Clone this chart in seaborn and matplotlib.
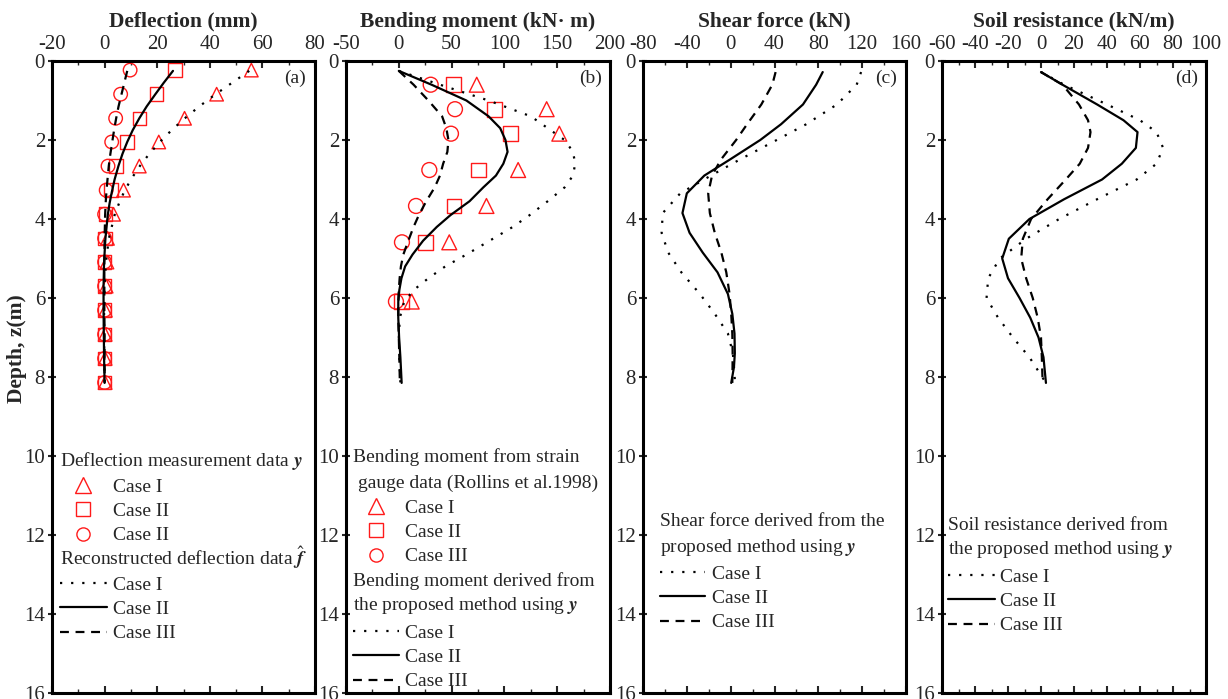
import matplotlib
matplotlib.use("Agg")
import matplotlib.pyplot as plt
import seaborn as sns
from matplotlib.lines import Line2D
from matplotlib.ticker import MultipleLocator

sns.set_style("ticks")
plt.rcParams["font.family"] = ["Liberation Serif", "DejaVu Serif"]
plt.rcParams["mathtext.fontset"] = "stix"
plt.rcParams["axes.unicode_minus"] = False

W, H = 1228, 699

# ---- panel (a): deflection (mm) ----
a_mark_z = [0.23, 0.84, 1.45, 2.05, 2.66, 3.27, 3.88, 4.49, 5.09, 5.70, 6.31, 6.92, 7.53, 8.14]
a_mark_c1 = [55.8, 42.6, 30.4, 20.6, 13.2, 7.2, 3.4, 1.1, 0.9, 0.6, 0.3, 0.2, 0.2, 0.2]
a_mark_c2 = [26.7, 19.7, 13.3, 8.5, 4.4, 2.5, 0.4, 0.2, 0.0, 0.0, 0.0, 0.0, 0.0, 0.0]
a_mark_c3 = [9.7, 6.1, 4.2, 2.7, 1.3, 0.6, 0.0, 0.0, 0.0, 0.0, 0.0, 0.0, 0.0, 0.0]
a_line_z = [0.25, 0.55, 0.85, 1.15, 1.45, 1.75, 2.05, 2.35, 2.65, 3.0, 3.3, 3.6, 3.9,
            4.5, 5.1, 5.7, 6.3, 6.9, 7.5, 8.15]
a_line_c1 = [55, 48.5, 42, 36, 30.5, 25.5, 21, 17, 13.5, 10, 7.5, 5.5, 3.8,
             1.6, 0.5, 0, -0.2, -0.2, -0.1, 0]
a_line_c2 = [26, 22.5, 19.2, 16, 13.2, 10.7, 8.6, 6.8, 5.3, 3.8, 2.8, 1.9, 1.2,
             0.3, -0.2, -0.4, -0.4, -0.3, -0.2, 0]
a_line_c3 = [8.6, 7.5, 6.4, 5.3, 4.4, 3.6, 2.9, 2.2, 1.6, 1.1, 0.7, 0.4, 0.2,
             0, -0.1, -0.1, -0.1, 0, 0, 0]

# ---- panel (b): bending moment (kN m) ----
b_mark_z = [0.6, 1.22, 1.84, 2.76, 3.67, 4.59, 6.09]
b_mark_c1 = [73.8, 140, 152, 113, 83, 47.8, 12.2]
b_mark_c2 = [51.6, 91, 106, 75.3, 52.3, 25.4, 2.7]
b_mark_c3 = [30.2, 53.2, 49.4, 28.9, 16.3, 3.0, -2.7]
b_line_z = [0.25, 0.6, 1.0, 1.4, 1.7, 2.0, 2.3, 2.6, 2.9, 3.2, 3.55, 3.9, 4.2,
            4.55, 4.9, 5.2, 5.5, 5.8, 6.1, 6.5, 7.0, 7.5, 8.15]
b_line_c1 = [0, 39, 85, 125, 141, 157, 165, 167, 165, 157, 141, 124, 108,
             86, 64, 44, 28, 14, 5, 1, 0, 0.5, 1.5]
b_line_c2 = [0, 31, 64, 85, 96, 101, 103, 99, 92, 80, 67, 49, 36,
             23, 13, 6, 2.5, 0.5, -0.5, -0.5, 0.3, 1.5, 2.7]
b_line_c3 = [0, 14, 28, 41, 45, 47, 46, 42, 39, 34, 26, 19, 14,
             9, 4.3, 2, 0.8, 0, -0.5, -0.5, 0, 0.5, 1]

# ---- panel (c): shear force (kN) ----
c_line_z = [0.28, 0.6, 1.1, 1.6, 2.0, 2.5, 2.9, 3.35, 3.85, 4.35, 4.85, 5.35,
            5.9, 6.4, 6.9, 7.4, 7.75, 8.15]
c_line_c1 = [119, 115, 97, 69, 42, 8, -18, -46, -62, -63, -57, -45,
             -28, -14.5, -2.5, 2, 3, 4]
c_line_c2 = [84, 78, 66, 46, 27, -1, -24, -40, -44, -37.5, -25.5, -12,
             -2.5, 1.5, 3.5, 3.8, 3, 0.5]
c_line_c3 = [41, 38, 28, 15, 5, -9, -17, -20.5, -19, -14.5, -8.5, -4,
             -1, 0.5, 1.5, 1.8, 1.7, 1.5]

# ---- panel (d): soil resistance (kN/m) ----
d_line_z = [0.28, 0.6, 1.1, 1.5, 1.8, 2.2, 2.6, 3.0, 3.5, 4.0, 4.5, 5.0, 5.5,
            6.0, 6.5, 7.0, 7.5, 8.15]
d_line_c1 = [0, 14, 40, 60, 70, 74, 70, 58, 34, 11, -9, -25, -32,
             -33, -26, -17, -7, 3]
d_line_c2 = [0, 13, 34, 50, 58.5, 57.5, 49, 37, 14, -7, -19.5, -23.5, -20,
             -13, -6.5, -1.5, 1.5, 3]
d_line_c3 = [0, 13, 23, 28.5, 30, 28.5, 23.5, 15, 4, -6, -11, -12, -9,
             -5, -2, 0, 0.5, 1]

titles = ["Deflection (mm)", "Bending moment (kN\u00b7 m)", "Shear force (kN)",
          "Soil resistance (kN/m)"]
xlims = [(-20, 80), (-50, 200), (-80, 160), (-60, 100)]
xsteps = [20, 50, 40, 20]
tags = ["(a)", "(b)", "(c)", "(d)"]
case_labels = ["Case I", "Case II", "Case III"]

RED = "#ff1a1a"
DOT = (0, (1, 4))
DASH = (0, (4, 3))
line_styles = [DOT, "-", DASH]
markers = ["^", "s", "o"]
FS = 14
TICK_FS = 15
TITLE_FS = 15.5


def fig_xy(x, y):
    return x / W, 1 - y / H


def draw_lines(ax, z, series):
    for vals, ls in zip(series, line_styles):
        sns.lineplot(x=vals, y=z, orient="y", ax=ax, color="black",
                     linestyle=ls, linewidth=1.6, sort=True)


def draw_marks(ax, z, series, size):
    for vals, m in zip(series, markers):
        sns.scatterplot(x=vals, y=z, ax=ax, marker=m, s=size,
                        facecolor="none", edgecolor=RED, linewidth=1.0)


def header(fig, x, y, text):
    fx, fy = fig_xy(x, y)
    fig.text(fx, fy, text, ha="left", va="center", fontsize=FS)


def key(fig, x, y_top, handles, labels, hl, pad):
    fx, fy = fig_xy(x, y_top)
    leg = fig.legend(handles, labels, loc="upper left", bbox_to_anchor=(fx, fy),
                     bbox_transform=fig.transFigure, frameon=False, borderpad=0,
                     borderaxespad=0, handlelength=hl, handletextpad=pad,
                     labelspacing=0.35, fontsize=FS)
    return leg


mark_handles = [Line2D([], [], marker=m, ls="none", mfc="none", mec=RED,
                       mew=1.0, ms=11 if m == "^" else 9.5) for m in markers]
line_handles = [Line2D([], [], color="black", ls=ls, lw=1.6) for ls in line_styles]

fig = plt.figure(figsize=(W / 100, H / 100), dpi=100)
lefts = [52, 346, 643, 942]
widths = [263, 264, 263, 264]
axes = []
for left, width in zip(lefts, widths):
    ax = fig.add_axes([left / W, 1 - 693 / H, width / W, (693 - 61) / H])
    axes.append(ax)

draw_lines(axes[0], a_line_z, [a_line_c1, a_line_c2, a_line_c3])
draw_marks(axes[0], a_mark_z, [a_mark_c1, a_mark_c2, a_mark_c3], 95)
draw_lines(axes[1], b_line_z, [b_line_c1, b_line_c2, b_line_c3])
draw_marks(axes[1], b_mark_z, [b_mark_c1, b_mark_c2, b_mark_c3], 115)
draw_lines(axes[2], c_line_z, [c_line_c1, c_line_c2, c_line_c3])
draw_lines(axes[3], d_line_z, [d_line_c1, d_line_c2, d_line_c3])

for ax, title, xl, step, tag in zip(axes, titles, xlims, xsteps, tags):
    ax.set_xlim(*xl)
    ax.set_ylim(16, 0)
    ax.xaxis.set_major_locator(MultipleLocator(step))
    ax.xaxis.set_minor_locator(MultipleLocator(step / 2))
    ax.yaxis.set_major_locator(MultipleLocator(2))
    ax.xaxis.tick_top()
    ax.xaxis.set_label_position("top")
    ax.tick_params(axis="x", which="both", direction="in", top=True, bottom=True,
                   labeltop=True, labelbottom=False, labelsize=TICK_FS, pad=5)
    ax.tick_params(axis="x", which="major", length=5, width=1.5)
    ax.tick_params(axis="x", which="minor", length=3, width=1.0)
    ax.tick_params(axis="y", which="major", direction="inout", length=6, width=1.5,
                   labelsize=TICK_FS, pad=2)
    ax.set_xlabel(title, fontsize=TITLE_FS, fontweight="bold", labelpad=6)
    ax.set_ylabel("")
    for sp in ax.spines.values():
        sp.set_visible(True)
        sp.set_linewidth(2.2)
        sp.set_color("black")
    ax.text(0.925, 0.972, tag, transform=ax.transAxes, ha="center", va="center",
            fontsize=FS)

axes[0].set_ylabel("Depth, z(m)", fontsize=TITLE_FS, fontweight="bold")
axes[0].yaxis.set_label_coords(-0.095, 0.545)

# panel (a) keys
header(fig, 60, 461, r"Deflection measurement data $\mathbfit{y}$")
key(fig, 70, 478, mark_handles, ["Case I", "Case II", "Case II"], 1.35, 0.85)
header(fig, 60, 558, r"Reconstructed deflection data $\hat{\mathbfit{f}}$")
key(fig, 60, 576, line_handles, case_labels, 2.4, 0.33)

# panel (b) keys
header(fig, 353, 457, "Bending moment from strain")
header(fig, 358, 483, "gauge data (Rollins et al.1998)")
key(fig, 362, 499, mark_handles, case_labels, 1.4, 0.8)
header(fig, 353, 581, "Bending moment derived from")
header(fig, 353, 606, r"the proposed method using $\mathbfit{y}$")
key(fig, 353, 624, line_handles, case_labels, 2.35, 0.33)

# panel (c) keys
header(fig, 660, 522, "Shear force derived from the")
header(fig, 660, 547, r"proposed method using $\mathbfit{y}$")
key(fig, 660, 565, line_handles, case_labels, 2.3, 0.38)

# panel (d) keys
header(fig, 948, 525, "Soil resistance derived from")
header(fig, 948, 550, r"the proposed method using $\mathbfit{y}$")
key(fig, 948, 568, line_handles, case_labels, 2.4, 0.28)

fig.savefig("out.png", dpi=100)
